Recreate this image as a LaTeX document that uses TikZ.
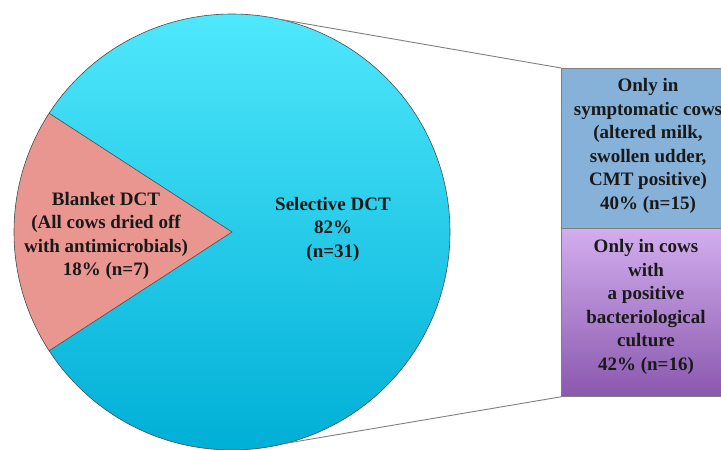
\documentclass[tikz,border=0pt]{standalone}
\usepackage{fontspec}
\setmainfont{Liberation Serif}
\usetikzlibrary{calc}
\definecolor{cyantop}{HTML}{4FE8FC}
\definecolor{cyanmid}{HTML}{00CDE8}
\definecolor{cyanbot}{HTML}{00AFD6}
\definecolor{pinkw}{HTML}{EA9690}
\definecolor{boxblue}{HTML}{86B2DA}
\definecolor{lavtop}{HTML}{D2AEEE}
\definecolor{lavbot}{HTML}{8A58AE}
\definecolor{edgegray}{HTML}{7F7F7F}
\tikzset{
  lbl/.style={align=center,font=\fontsize{19}{23.5}\selectfont\bfseries,text=black!90,inner sep=0pt},
  boxshape/.style={draw=edgegray,line width=0.8pt,minimum width=174pt,inner sep=0pt,anchor=north west},
  conn/.style={draw=edgegray,line width=0.9pt}
}
\begin{document}
\begin{tikzpicture}[x=1pt,y=1pt]
\useasboundingbox (0,0) rectangle (721,450);
\clip (0,0) rectangle (721,450);
\coordinate (C) at (232,218);
% pie
\shade[top color=cyantop,middle color=cyanmid,bottom color=cyanbot] (C) circle[radius=218];
\fill[pinkw] (C) -- ($(C)+(147:218)$) arc[start angle=147,end angle=213,radius=218] -- cycle;
\draw[black!70,line width=0.6pt] (C) circle[radius=218];
\draw[black!70,line width=0.6pt] ($(C)+(147:218)$) -- (C) -- ($(C)+(213:218)$);
\coordinate (ptop) at ($(C)+(77.4:218)$);
\coordinate (pbot) at ($(C)+(-76:218)$);
% boxes
\node[boxshape,fill=boxblue,minimum height=160pt] (box1) at (561,382) {};
\node[boxshape,top color=lavtop,bottom color=lavbot,minimum height=168pt] (box2) at (561,222) {};
% connectors
\draw[conn] (ptop) -- (box1.north west);
\draw[conn] (pbot) -- (box2.south west);
% labels
\node[lbl] (blanket) at (106,214) {Blanket DCT\\(All cows dried off\\with antimicrobials)\\18\% (n=7)};
\node[lbl] (selective) at (333,221) {Selective DCT\\82\%\\(n=31)};
\node[lbl] (t1) at (648,304) {Only in\\symptomatic cows\\(altered milk,\\swollen udder,\\CMT positive)\\40\% (n=15)};
\node[lbl] (t2) at (646,143) {Only in cows\\with\\a positive\\bacteriological\\culture\\42\% (n=16)};
\end{tikzpicture}
\end{document}
